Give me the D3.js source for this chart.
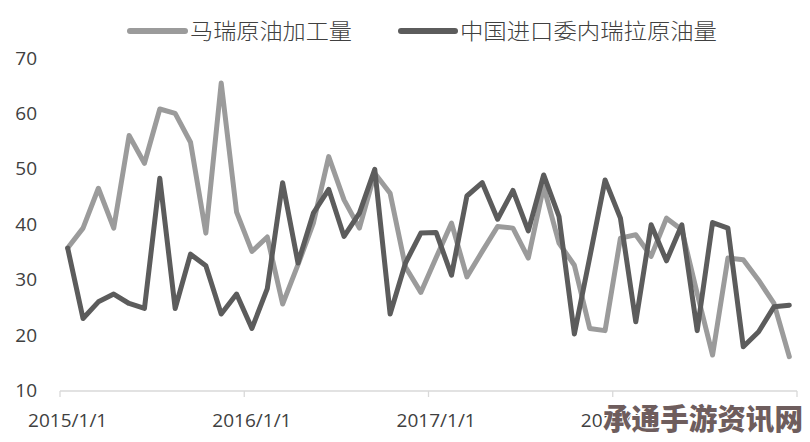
<!DOCTYPE html>
<html><head><meta charset="utf-8">
<script src="https://cdn.jsdelivr.net/npm/d3@7"></script>
<style>
html,body{margin:0;padding:0;background:#fff;}
svg{display:block;}
</style></head>
<body>
<svg id="chart" width="810" height="442"></svg>
<script>
const months = [
"2015/1/1","2015/2/1","2015/3/1","2015/4/1","2015/5/1","2015/6/1","2015/7/1","2015/8/1","2015/9/1","2015/10/1","2015/11/1","2015/12/1",
"2016/1/1","2016/2/1","2016/3/1","2016/4/1","2016/5/1","2016/6/1","2016/7/1","2016/8/1","2016/9/1","2016/10/1","2016/11/1","2016/12/1",
"2017/1/1","2017/2/1","2017/3/1","2017/4/1","2017/5/1","2017/6/1","2017/7/1","2017/8/1","2017/9/1","2017/10/1","2017/11/1","2017/12/1",
"2018/1/1","2018/2/1","2018/3/1","2018/4/1","2018/5/1","2018/6/1","2018/7/1","2018/8/1","2018/9/1","2018/10/1","2018/11/1","2018/12/1"];
const refinery = [35.7,39.3,46.5,39.3,56,51,60.8,60,54.8,38.4,65.5,42.2,
35.1,37.7,25.6,32.7,40.2,52.2,44.4,39.3,49.2,45.6,32.3,27.7,
34,40.2,30.5,35.1,39.6,39.3,33.9,46.8,36.6,32.6,21.2,20.8,
37.5,38.1,34.2,41.1,39.0,27.5,16.4,33.9,33.6,29.9,25.7,16.1];
const imports = [35.7,23.0,26.0,27.4,25.7,24.8,48.3,24.8,34.6,32.5,23.8,27.4,
21.2,28.4,47.5,33.0,42.0,46.3,37.8,42.0,49.9,23.8,33.0,38.4,
38.5,30.8,45.1,47.5,40.9,46.1,38.8,48.9,41.4,20.2,34,48.0,
41.1,22.4,39.9,33.4,39.9,20.8,40.3,39.3,17.9,20.6,25.1,25.4];
const seriesNames = ["马瑞原油加工量","中国进口委内瑞拉原油量"];
const yTicks = [10,20,30,40,50,60,70];
const xTickLabels = ["2015/1/1","2016/1/1","2017/1/1","2018/1/1"];

const svg = d3.select("#chart");
const x = d3.scaleBand().domain(months).range([60,797]).paddingInner(0).paddingOuter(0);
const y = d3.scaleLinear().domain([10,70]).range([390.5,58]);
const colors = ["#9b9b9b","#5c5c5c"];
const font = "'Open Sans','Liberation Sans',sans-serif";

// y axis labels
const yAxis = d3.axisLeft(y).tickValues(yTicks).tickSize(0).tickPadding(0);
const gy = svg.append("g").attr("transform","translate(37,0)").call(yAxis);
gy.select(".domain").remove();
gy.selectAll("text").attr("font-family",font).attr("font-size",19).attr("fill","#404040");

// x axis line and ticks
const gx = svg.append("g");
gx.append("line").attr("x1",x.range()[0]).attr("x2",x.range()[1])
  .attr("y1",391).attr("y2",391).attr("stroke","#d9d9d9").attr("stroke-width",1.3);
const boundaries = xTickLabels.map(d=>x(d)).concat([x.range()[1]]);
gx.selectAll("line.tk").data(boundaries).enter().append("line").attr("class","tk")
  .attr("x1",d=>d).attr("x2",d=>d).attr("y1",391).attr("y2",397)
  .attr("stroke","#d9d9d9").attr("stroke-width",1.3);
gx.selectAll("text").data(xTickLabels).enter().append("text")
  .attr("x",d=>x(d)+x.bandwidth()/2).attr("y",427)
  .attr("text-anchor","middle").attr("font-family",font).attr("font-size",19)
  .attr("fill","#404040").text(d=>d);

// lines
const line = d3.line().x((d,i)=>x(months[i])+x.bandwidth()/2).y(d=>y(d));
[refinery, imports].forEach((s,k)=>{
  svg.append("path").datum(s).attr("d",line).attr("fill","none")
    .attr("stroke",colors[k]).attr("stroke-width",5)
    .attr("stroke-linejoin","round").attr("stroke-linecap","round");
});

// legend
const legendItems = [{x:130,w:55,tx:190,tw:162},{x:401,w:54,tx:460,tw:257}];
legendItems.forEach((L,k)=>{
  svg.append("line").attr("x1",L.x).attr("x2",L.x+L.w).attr("y1",31).attr("y2",31)
    .attr("stroke",colors[k]).attr("stroke-width",6).attr("stroke-linecap","round");
  svg.append("text").attr("x",L.tx).attr("y",39).attr("font-family","'Noto Sans CJK SC',sans-serif")
    .attr("font-size",22).attr("font-weight",300).attr("fill","#404040")
    .attr("textLength",L.tw).attr("lengthAdjust","spacingAndGlyphs").text(seriesNames[k]);
});

// watermark
svg.append("text").attr("x",603).attr("y",430).attr("font-family","'Noto Sans CJK SC',sans-serif")
  .attr("font-size",29).attr("font-weight",900).attr("fill","#6e5d5d")
  .attr("stroke","#ffffff").attr("stroke-width",2).attr("paint-order","stroke")
  .attr("textLength",200).attr("lengthAdjust","spacingAndGlyphs").text("承通手游资讯网");
</script>
</body></html>
